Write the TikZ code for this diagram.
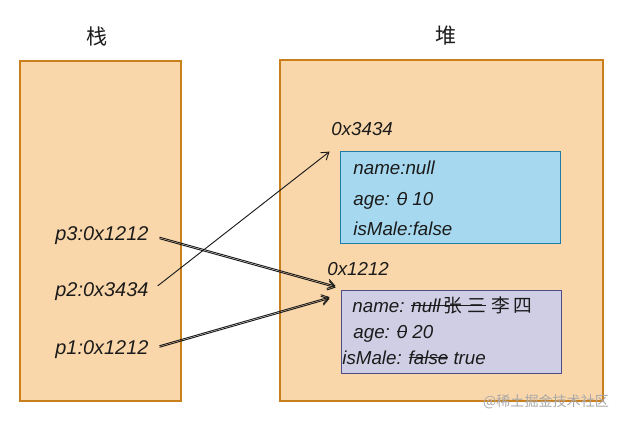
\documentclass[tikz,border=0pt]{standalone}
\usepackage{fontspec}
\setmainfont{Liberation Sans}
\newfontfamily\cjk{Noto Sans CJK SC}
\usetikzlibrary{arrows.meta, positioning, calc}
\definecolor{StackFill}{HTML}{FAD7AA}
\definecolor{StackLine}{HTML}{C97F1C}
\definecolor{BlueFill} {HTML}{A6D9EF}
\definecolor{BlueLine} {HTML}{1F7CA6}
\definecolor{PurpFill} {HTML}{D0CEE5}
\definecolor{PurpLine} {HTML}{4B4E8A}
\definecolor{TxtMain}  {HTML}{1B1B1B}
\definecolor{Mark}     {HTML}{A8A8A8}
\newsavebox{\strkbox}
\newcommand{\strk}[1]{\sbox\strkbox{#1}%
  \rlap{\rule[0.33em]{\wd\strkbox}{0.9pt}}\usebox\strkbox}

\begin{document}
\begin{tikzpicture}[
  x=0.3mm, y=-0.3mm,
  every node/.style={font=\fontsize{16}{19}\selectfont\itshape, text=TxtMain},
  area/.style={draw=StackLine, fill=StackFill, line width=0.9pt, inner sep=0pt},
  obj/.style={draw=#1Line, fill=#1Fill, line width=0.7pt, inner sep=0pt,
              minimum width=66mm},
  field/.style={inner sep=1pt, anchor=west, execute at begin node=\strut},
  ref/.style={field, font=\fontsize{17}{20}\selectfont\itshape},
  title/.style={font=\fontsize{18}{20}\selectfont\cjk},
  ptr/.style={-{Straight Barb[length=6pt, width=8pt]}, line width=0.8pt,
              color=TxtMain, shorten <=3mm},
]
  \useasboundingbox (0,0) rectangle (621,422);

  % stack and heap areas
  \node[area, minimum width=48.3mm, minimum height=102mm] (stack) at (100.5,231) {};
  \node[area, minimum width=96.9mm, minimum height=102.3mm] (heap) at (441.5,230.5) {};
  \node[title, above=3mm of stack, xshift=-1mm] (stackT) {栈};
  \node[title, above=3mm of heap, xshift=1.5mm] (heapT)  {堆};

  % objects on the heap
  \node[obj=Blue, minimum height=27.6mm] (objA) at (450,197) {};
  \node[obj=Purp, minimum height=24.9mm] (objB) at (451,331.5) {};
  \node[field] (adrA) at (330,131) {0x3434};
  \node[field] (adrB) at (326,271) {0x1212};

  \node[field] (nameA) at (352,170) {name:null};
  \node[field] (ageA)  at (352,201) {age: \strk{0} 10};
  \node[field] (maleA) at (352,231) {isMale:false};

  \node[field] (nameB) at (351,308)
    {name: \strk{null\,{\cjk 张\hspace{4pt}三}} {\cjk 李\hspace{3pt}四}};
  \node[field] (ageB)  at (352,334) {age: \strk{0} 20};
  \node[field] (maleB) at (341,360) {isMale: \strk{false} true};

  % references on the stack
  \node[ref] (p3) at (54,236) {p3:0x1212};
  \node[ref] (p2) at (54,292) {p2:0x3434};
  \node[ref] (p1) at (54,350) {p1:0x1212};

  \coordinate (inA)  at ($(objA.north west)+(-10,1)$);
  \coordinate (inB)  at ($(objB.north west)+(-5,-2)$);
  \coordinate (inB2) at ($(objB.north west)+(-11,9)$);

  \draw[ptr] (p2.east) -- (inA);
  \foreach \s in {0pt,1.3pt} {
    \draw[ptr, transform canvas={yshift=\s}] (p3.east) -- (inB);
    \draw[ptr, transform canvas={yshift=\s}] (p1.east) -- (inB2);
  }

  \node[font=\fontsize{12}{14}\selectfont\cjk, text=Mark] (mark) at (546,402)
    {@稀土掘金技术社区};
\end{tikzpicture}
\end{document}
